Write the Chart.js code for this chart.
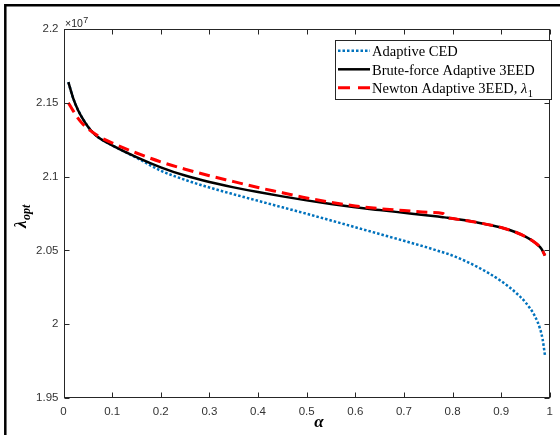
<!DOCTYPE html>
<html><head><meta charset="utf-8">
<script src="https://cdn.jsdelivr.net/npm/chart.js@4"></script>
<style>html,body{margin:0;padding:0;background:#fff;}#wrap{width:560px;height:435px;position:relative;}</style>
</head><body><div id="wrap"><canvas id="c" width="560" height="435"></canvas></div>
<script>
const alpha = [0.01,0.02,0.03,0.04,0.05,0.06,0.075,0.1,0.15,0.2,0.25,0.3,0.35,0.4,0.45,0.5,0.55,0.6,0.65,0.7,0.75,0.78,0.79,0.8,0.85,0.9,0.93,0.95,0.97,0.98,0.985,0.99];
const cedValues = [2.164,2.153,2.145,2.139,2.134,2.130,2.1258,2.1212,2.1128,2.1040,2.0978,2.0926,2.0880,2.0836,2.0792,2.0748,2.0703,2.0657,2.0611,2.0565,2.0518,2.0487,2.0477,2.0465,2.0390,2.0292,2.0214,2.0148,2.0050,1.9968,1.9902,1.9790];
const bruteValues = [2.164,2.153,2.145,2.139,2.134,2.130,2.1258,2.1212,2.1132,2.1063,2.1007,2.0963,2.0927,2.0895,2.0866,2.0839,2.0814,2.0792,2.0773,2.0755,2.0737,2.0725,2.0721,2.0716,2.0690,2.0655,2.0623,2.0593,2.0552,2.0522,2.0499,2.0465];
const newtonValues = [2.150,2.1445,2.1395,2.1355,2.1325,2.1300,2.1268,2.1228,2.1160,2.1100,2.1050,2.1006,2.0966,2.0926,2.0891,2.0855,2.0826,2.0801,2.0783,2.0770,2.0758,2.0750,2.0722,2.0716,2.0690,2.0655,2.0623,2.0593,2.0552,2.0522,2.0499,2.0465];
const xTickValues = [0,0.1,0.2,0.3,0.4,0.5,0.6,0.7,0.8,0.9,1];
const yTickValues = [1.95,2,2.05,2.1,2.15,2.2];
const seriesNames = ['Adaptive CED','Brute-force Adaptive 3EED','Newton Adaptive 3EED, '];
const newtonSymbol = 'λ';
const newtonSub = '1';
const expBase = '×10';
const expPower = '7';
const xTitle = 'α';
const yTitleMain = 'λ';
const yTitleSub = 'opt';

const AXC = '#262626';
const colors = ['#0072BD','#000000','#FF0000'];
const dashes = [[2.5,2],[],[11,6]];
const widths = [2.5,2.5,3];
const series = [cedValues, bruteValues, newtonValues];

const datasets = series.map((vals,i)=>({
  label: seriesNames[i],
  data: alpha.map((a,k)=>({x:a,y:vals[k]})),
  borderColor: colors[i], backgroundColor: colors[i],
  borderWidth: widths[i], borderDash: dashes[i],
  pointRadius: 0, showLine: true, fill: false,
  cubicInterpolationMode: 'monotone', borderCapStyle: 'butt'
}));
datasets.reverse();

const decor = {
  id: 'decor',
  afterDraw(chart){
    const ctx = chart.ctx, a = chart.chartArea;
    const xs = chart.scales.x, ys = chart.scales.y;
    ctx.save();
    ctx.strokeStyle = AXC; ctx.lineWidth = 1; ctx.setLineDash([]);
    const L = Math.round(a.left)+0.5, R = Math.round(a.right)-0.5, T = Math.round(a.top)+0.5, B = Math.round(a.bottom)-0.5;
    ctx.strokeRect(L, T, R-L, B-T);
    ctx.beginPath();
    xTickValues.forEach(v=>{
      const px = Math.round(xs.getPixelForValue(v))+0.5;
      ctx.moveTo(px,B); ctx.lineTo(px,B-5);
      ctx.moveTo(px,T); ctx.lineTo(px,T+5);
    });
    yTickValues.forEach(v=>{
      const py = Math.round(ys.getPixelForValue(v))+0.5;
      ctx.moveTo(L,py); ctx.lineTo(L+5,py);
      ctx.moveTo(R,py); ctx.lineTo(R-5,py);
    });
    ctx.stroke();
    ctx.fillStyle = AXC; ctx.textBaseline='alphabetic'; ctx.textAlign='left';
    ctx.font = "10.5px 'Liberation Sans'";
    ctx.fillText(expBase, 65, 27);
    const w = ctx.measureText(expBase).width;
    ctx.font = "9px 'Liberation Sans'";
    ctx.fillText(expPower, 65+w+0.5, 22.5);
    ctx.fillStyle = '#000';
    ctx.font = "bold italic 17px 'Liberation Serif'";
    ctx.textAlign='center';
    ctx.fillText(xTitle, 319, 427);
    ctx.save();
    ctx.translate(25.5, 228);
    ctx.rotate(-Math.PI/2);
    ctx.textAlign='left';
    ctx.font = "bold italic 17px 'Liberation Serif'";
    ctx.fillText(yTitleMain, 0, 0);
    const lw = ctx.measureText(yTitleMain).width;
    ctx.font = "bold italic 12px 'Liberation Serif'";
    ctx.fillText(yTitleSub, lw+0.5, 4);
    ctx.restore();
    const bx=335.5, by=40.5, bw=216, bh=59;
    ctx.fillStyle='#fff'; ctx.fillRect(bx,by,bw,bh);
    ctx.strokeStyle=AXC; ctx.lineWidth=1; ctx.strokeRect(bx,by,bw,bh);
    const rowsLine=[50.7,69.3,87.7], rowsText=[56,74.5,93];
    for(let i=0;i<3;i++){
      ctx.beginPath();
      ctx.strokeStyle=colors[i]; ctx.lineWidth=widths[i];
      ctx.setLineDash(i===2?[12,8]:dashes[i]);
      ctx.moveTo(338,rowsLine[i]); ctx.lineTo(370,rowsLine[i]); ctx.stroke();
      ctx.setLineDash([]);
      ctx.fillStyle='#000'; ctx.textAlign='left';
      ctx.font="14.5px 'Liberation Serif'";
      ctx.fillText(seriesNames[i], 372, rowsText[i]);
      if(i===2){
        let xw = 372 + ctx.measureText(seriesNames[i]).width;
        ctx.font="italic 14.5px 'Liberation Serif'";
        ctx.fillText(newtonSymbol, xw, rowsText[i]);
        xw += ctx.measureText(newtonSymbol).width + 0.5;
        ctx.font="10.5px 'Liberation Serif'";
        ctx.fillText(newtonSub, xw, rowsText[i]+3.5);
      }
    }
    ctx.strokeStyle='#000'; ctx.lineWidth=2.5; ctx.setLineDash([]);
    ctx.beginPath();
    ctx.moveTo(5.3,440); ctx.lineTo(5.3,5.3); ctx.lineTo(570,5.3);
    ctx.stroke();
    ctx.restore();
  }
};

new Chart(document.getElementById('c'), {
  type: 'scatter',
  data: { datasets },
  options: {
    responsive: false, animation: false, devicePixelRatio: 1,
    layout: { padding: { left: 0, right: 5.5, top: 29, bottom: 0 } },
    plugins: { legend: { display: false }, tooltip: { enabled: false } },
    scales: {
      x: {
        type: 'linear', min: 0, max: 1,
        afterBuildTicks: s => { s.ticks = xTickValues.map(v=>({value:v})); },
        afterFit: s => { s.height = 37; },
        grid: { display: false, drawTicks: false }, border: { display: false },
        ticks: { callback: v => String(v), autoSkip: false, maxRotation: 0, padding: 7, color: '#333',
          font: { family: 'Liberation Sans', size: 11.5 } }
      },
      y: {
        type: 'linear', min: 1.95, max: 2.2,
        afterBuildTicks: s => { s.ticks = yTickValues.map(v=>({value:v})); },
        afterFit: s => { s.width = 63.5; },
        grid: { display: false, drawTicks: false }, border: { display: false },
        ticks: { callback: v => String(v), autoSkip: false, padding: 5, color: '#333',
          font: { family: 'Liberation Sans', size: 11.5 } }
      }
    }
  },
  plugins: [decor]
});
</script></body></html>
